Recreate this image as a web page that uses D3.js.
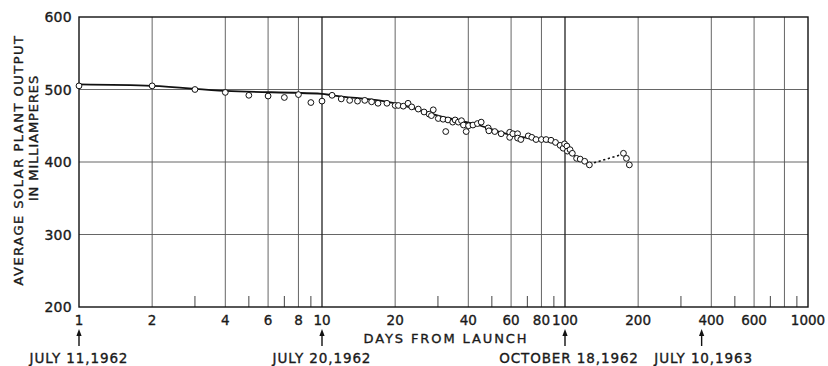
<!DOCTYPE html>
<html>
<head>
<meta charset="utf-8">
<script src="https://cdn.jsdelivr.net/npm/d3@7"></script>
<style>
  html, body { margin: 0; padding: 0; background: #fff; }
  svg { display: block; }
  text { font-family: "DejaVu Sans", sans-serif; fill: #1a1a1a; stroke: #1a1a1a; stroke-width: 0.35px; }
</style>
</head>
<body>
<svg id="chart" width="828" height="366"></svg>
<script>
// Measured solar plant output (mA) against days from launch
const days = [1, 2, 3, 4, 5, 6, 7, 8, 9, 10, 11, 12, 13, 14, 15, 16, 17, 18.5, 20, 20.6, 21.6, 22.6, 23.4,
  24.9, 26.3, 27.6, 28.2, 28.7, 30.1, 31.5, 32.3, 33, 34.5, 35.3, 36.4, 37.5, 38.2, 39.2, 40.1, 41.8,
  43.6, 45.2, 48.3, 48.6, 51.4, 54.6, 59.2, 59.2, 61, 63.8, 63.8, 65.8, 70.6, 73, 76, 80, 83.6, 87.6,
  91.4, 95.5, 98.3, 99.6, 101.8, 102.3, 104.9, 107.2, 111.6, 115.5, 120.5, 126, 174, 179, 184];
const output = [505, 505, 500, 496, 492, 491, 489, 493, 482, 484, 492, 487, 485, 484, 485, 483, 481, 481, 478, 478, 477, 481, 476,
  473, 469, 466, 464, 472, 460, 459, 442, 458, 455, 458, 455, 457, 451, 442, 450, 451,
  453, 455, 447, 443, 442, 439, 441, 434, 439, 439, 433, 431, 436, 434, 431, 431, 431, 430,
  427, 423, 419, 425, 422, 415, 417, 412, 405, 404, 401, 396, 412, 405, 396];

// Faired curve through the measurements (solid), then the extrapolated dotted part
const fitDays   = [1, 2, 4, 10, 11, 20, 30, 45, 57, 79, 92, 100, 111, 126];
const fitOutput = [507, 505, 498, 494, 492, 481, 464, 450, 439, 430, 425, 419, 407, 397];
const dashDays   = [126, 174];
const dashOutput = [397, 411];

// Axis ticks
const yTicks = [200, 300, 400, 500, 600];
const xGridMajor = [2, 4, 6, 8, 10, 20, 40, 60, 80, 100, 200, 400, 600, 800];
const xBold = [10, 100];
const xShortTicks = [3, 5, 7, 9, 30, 50, 70, 90, 300, 500, 700, 900];
const xLabels = [1, 2, 4, 6, 8, 10, 20, 40, 60, 80, 100, 200, 400, 600, 1000];

// Calendar markers
const markerDays = [1, 10, 100, 365];
const markerLabels = ["JULY 11,1962", "JULY 20,1962", "OCTOBER 18,1962", "JULY 10,1963"];
const markerShift = [0, 0, 4, 2];

const svg = d3.select("#chart");
const plot = { left: 79, right: 808, top: 17, bottom: 307 };

const x = d3.scaleLog().domain([1, 1000]).range([plot.left, plot.right]);
const y = d3.scaleLinear().domain([200, 600]).range([plot.bottom, plot.top]);

// Grid
const grid = svg.append("g");
grid.selectAll("line.h").data(yTicks.filter(v => v > 200 && v < 600)).join("line")
  .attr("x1", plot.left).attr("x2", plot.right)
  .attr("y1", d => y(d)).attr("y2", d => y(d))
  .attr("stroke", "#555").attr("stroke-width", 0.9);
grid.selectAll("line.v").data(xGridMajor).join("line")
  .attr("x1", d => x(d)).attr("x2", d => x(d))
  .attr("y1", plot.top).attr("y2", plot.bottom)
  .attr("stroke", d => xBold.includes(d) ? "#222" : "#555")
  .attr("stroke-width", d => xBold.includes(d) ? 1.3 : 0.9);
grid.selectAll("line.t").data(xShortTicks).join("line")
  .attr("x1", d => x(d)).attr("x2", d => x(d))
  .attr("y1", plot.bottom - 11).attr("y2", plot.bottom)
  .attr("stroke", "#444").attr("stroke-width", 1);

// Frame
svg.append("rect")
  .attr("x", plot.left).attr("y", plot.top)
  .attr("width", plot.right - plot.left).attr("height", plot.bottom - plot.top)
  .attr("fill", "none").attr("stroke", "#111").attr("stroke-width", 1.4);

// Y tick labels
svg.append("g").selectAll("text").data(yTicks).join("text")
  .attr("x", 72).attr("y", d => y(d) + 5)
  .attr("text-anchor", "end")
  .attr("font-size", 14).attr("letter-spacing", 0.3)
  .text(d => d);

// X tick labels
svg.append("g").selectAll("text").data(xLabels).join("text")
  .attr("x", d => x(d)).attr("y", 324.5)
  .attr("text-anchor", "middle")
  .attr("font-size", 13.5)
  .text(d => d);

// Axis titles
svg.append("text")
  .attr("x", 446).attr("y", 342.5)
  .attr("text-anchor", "middle")
  .attr("font-size", 13).attr("letter-spacing", 1.9)
  .text("DAYS FROM LAUNCH");

svg.append("text")
  .attr("transform", "translate(23,160) rotate(-90)")
  .attr("text-anchor", "middle")
  .attr("font-size", 13).attr("letter-spacing", 1.5)
  .text("AVERAGE SOLAR PLANT OUTPUT");
svg.append("text")
  .attr("transform", "translate(38,138) rotate(-90)")
  .attr("text-anchor", "middle")
  .attr("font-size", 13).attr("letter-spacing", 0.9)
  .text("IN MILLIAMPERES");

// Date markers with arrows
const markers = svg.append("g");
markerDays.forEach((d, i) => {
  const cx = x(d);
  markers.append("line")
    .attr("x1", cx).attr("x2", cx).attr("y1", 333).attr("y2", 346)
    .attr("stroke", "#111").attr("stroke-width", 1.4);
  markers.append("path")
    .attr("d", `M${cx},329 L${cx - 2.6},336 L${cx + 2.6},336 Z`)
    .attr("fill", "#111");
  markers.append("text")
    .attr("x", cx + markerShift[i]).attr("y", 363)
    .attr("text-anchor", "middle")
    .attr("font-size", 13.5).attr("letter-spacing", 0.9)
    .text(markerLabels[i]);
});

// Curves
const line = d3.line().x(d => x(d[0])).y(d => y(d[1])).curve(d3.curveMonotoneX);
svg.append("path")
  .datum(fitDays.map((d, i) => [d, fitOutput[i]]))
  .attr("d", line)
  .attr("fill", "none").attr("stroke", "#111").attr("stroke-width", 1.8);
svg.append("path")
  .datum(dashDays.map((d, i) => [d, dashOutput[i]]))
  .attr("d", d3.line().x(d => x(d[0])).y(d => y(d[1])))
  .attr("fill", "none").attr("stroke", "#111").attr("stroke-width", 1.6)
  .attr("stroke-dasharray", "2.2,2.6");

// Data points
svg.append("g").selectAll("circle").data(days.map((d, i) => [d, output[i]])).join("circle")
  .attr("cx", d => x(d[0])).attr("cy", d => y(d[1]))
  .attr("r", 2.9)
  .attr("fill", "#fff").attr("stroke", "#111").attr("stroke-width", 1);
</script>
</body>
</html>
